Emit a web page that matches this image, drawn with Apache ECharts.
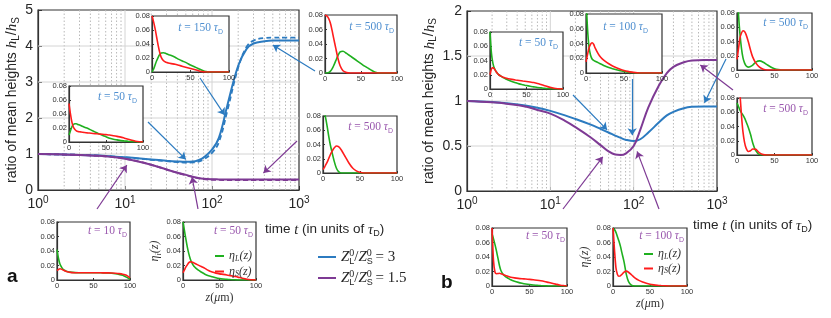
<!DOCTYPE html>
<html><head><meta charset="utf-8">
<script src="https://cdn.jsdelivr.net/npm/echarts@6.0.0/dist/echarts.min.js"></script>
<style>html,body{margin:0;padding:0;background:#fff}#c{width:831px;height:318px}</style>
</head><body><div id="c"></div><script>
// ---- main curves: time t (units of tau_D) vs ratio hL/hS ----
const T = [1,2,3,5,7,10,15,20,30,40,50,60,70,80,100,120,150,200,250,300,400,500,700,1000];
const aBlue      = [1.0,0.985,0.975,0.955,0.935,0.91,0.875,0.85,0.815,0.795,0.785,0.79,0.83,0.9,1.12,1.45,2.35,3.45,3.92,4.07,4.13,4.15,4.15,4.15];
const aBlueDash  = [1.0,0.985,0.975,0.955,0.935,0.905,0.87,0.84,0.8,0.775,0.76,0.765,0.79,0.85,1.03,1.33,2.2,3.4,3.98,4.15,4.22,4.23,4.23,4.23];
const aPurple    = [1.0,0.985,0.975,0.95,0.92,0.87,0.78,0.70,0.57,0.48,0.42,0.37,0.335,0.315,0.3,0.295,0.29,0.29,0.29,0.29,0.29,0.29,0.29,0.29];
const aPurpleDash= [1.0,0.985,0.975,0.95,0.92,0.87,0.78,0.70,0.57,0.475,0.41,0.36,0.325,0.3,0.285,0.28,0.278,0.278,0.278,0.278,0.278,0.278,0.278,0.278];
const bBlue      = [1.0,0.99,0.975,0.95,0.925,0.89,0.84,0.80,0.74,0.69,0.65,0.615,0.59,0.57,0.555,0.575,0.65,0.76,0.84,0.88,0.92,0.935,0.94,0.94];
const bPurple    = [1.0,0.985,0.97,0.94,0.9,0.86,0.78,0.71,0.6,0.51,0.44,0.405,0.40,0.415,0.5,0.68,0.93,1.17,1.31,1.38,1.43,1.45,1.455,1.455];
const minorT = [2,3,4,5,6,7,8,9,20,30,40,50,60,70,80,90,200,300,400,500,600,700,800,900];
const majorT = [10,100];
const yGridA = [1,2,3,4];
const yGridB = [0.5,1,1.5];
// arrow tips (data coords t, ratio)
const arrowTipsA = [[50,0.85],[140,2.08],[500,4.03],[390,0.47],[10.5,0.69],[59,0.36]];
const arrowTipsB = [[48,0.68],[96,0.62],[708,0.98],[631,1.40],[42.6,0.38],[110,0.44]];
// ---- inset profiles eta(z), z in micrometres ----
const Z = [0,2,4,6,8,10,12,15,18,21,25,30,35,40,45,50,55,60,65,70,75,80,85,90,95,100];
const a50b_L = [0.01,0.016,0.022,0.025,0.026,0.026,0.025,0.024,0.0225,0.021,0.0195,0.017,0.0145,0.012,0.0095,0.0075,0.0055,0.004,0.003,0.002,0.0015,0.001,0.0006,0.0003,0.0001,0];
const a50b_S = [0.055,0.04,0.028,0.021,0.018,0.016,0.015,0.0145,0.014,0.0135,0.013,0.0125,0.012,0.0115,0.011,0.0105,0.01,0.009,0.008,0.007,0.0055,0.004,0.0025,0.0012,0.0004,0];
const a150b_L = [0,0.004,0.01,0.016,0.021,0.025,0.027,0.0275,0.0265,0.025,0.0235,0.021,0.018,0.0155,0.013,0.01,0.0075,0.005,0.0025,0.0005,0,0,0,0,0,0];
const a150b_S = [0.08,0.072,0.062,0.05,0.038,0.028,0.021,0.016,0.014,0.013,0.012,0.011,0.0095,0.008,0.0065,0.005,0.0035,0.002,0.0005,0,0,0,0,0,0,0];
const a500b_L = [0,0,0.0003,0.001,0.003,0.006,0.01,0.017,0.024,0.029,0.03,0.027,0.0235,0.02,0.0165,0.013,0.0095,0.0065,0.0035,0.001,0,0,0,0,0,0];
const a500b_S = [0.08,0.079,0.077,0.073,0.067,0.058,0.048,0.034,0.02,0.01,0.003,0.0005,0,0,0,0,0,0,0,0,0,0,0,0,0,0];
const a500p_L = [0.095,0.085,0.075,0.063,0.05,0.039,0.03,0.017,0.007,0.002,0,0,0,0,0,0,0,0,0,0,0,0,0,0,0,0];
const a500p_S = [0.005,0.008,0.012,0.016,0.021,0.026,0.03,0.035,0.038,0.037,0.032,0.023,0.014,0.007,0.003,0.001,0,0,0,0,0,0,0,0,0,0];
const a10p_L = [0.042,0.03,0.022,0.018,0.015,0.0135,0.0125,0.0115,0.011,0.0105,0.0102,0.01,0.01,0.01,0.01,0.01,0.01,0.01,0.0098,0.0096,0.0093,0.0087,0.0078,0.0065,0.004,0.001];
const a10p_S = [0.013,0.0145,0.0155,0.015,0.014,0.013,0.012,0.0112,0.0105,0.0102,0.01,0.0099,0.0099,0.0099,0.0099,0.0099,0.0099,0.0099,0.0098,0.0098,0.0097,0.0093,0.0088,0.008,0.0065,0.003];
const a50p_L = [0.08,0.068,0.056,0.045,0.036,0.029,0.024,0.019,0.016,0.0135,0.011,0.008,0.006,0.0045,0.003,0.002,0.0014,0.001,0.0006,0.0003,0.0001,0,0,0,0,0];
const a50p_S = [0.01,0.014,0.018,0.021,0.024,0.025,0.0248,0.0235,0.022,0.0205,0.0185,0.016,0.013,0.011,0.0095,0.0085,0.0078,0.007,0.006,0.005,0.004,0.0028,0.0017,0.0008,0.0002,0];
const b50b_L = [0.08,0.05,0.036,0.029,0.025,0.022,0.02,0.018,0.016,0.0145,0.0125,0.0105,0.0088,0.0072,0.006,0.0048,0.0038,0.003,0.0022,0.0016,0.001,0.0006,0.0003,0.0001,0,0];
const b50b_S = [0.02,0.028,0.03,0.028,0.025,0.022,0.02,0.018,0.0165,0.0155,0.0145,0.0135,0.0127,0.012,0.0113,0.0106,0.0098,0.009,0.0078,0.0062,0.0045,0.003,0.0018,0.0008,0.0002,0];
const b100b_L = [0.1,0.06,0.035,0.024,0.019,0.017,0.016,0.0145,0.013,0.0115,0.0095,0.0075,0.0058,0.0043,0.003,0.002,0.0012,0.0006,0.0002,0,0,0,0,0,0,0];
const b100b_S = [0.015,0.025,0.034,0.039,0.041,0.039,0.034,0.028,0.023,0.0195,0.016,0.0125,0.0095,0.0072,0.0052,0.0035,0.0022,0.0012,0.0005,0.0001,0,0,0,0,0,0];
const b500b_L = [0.12,0.078,0.05,0.03,0.017,0.01,0.006,0.004,0.005,0.007,0.011,0.0128,0.011,0.0075,0.0042,0.0018,0.0005,0,0,0,0,0,0,0,0,0];
const b500b_S = [0.015,0.03,0.045,0.052,0.055,0.054,0.05,0.04,0.028,0.018,0.01,0.004,0.001,0,0,0,0,0,0,0,0,0,0,0,0,0];
const b500p_L = [0.073,0.068,0.063,0.059,0.056,0.052,0.047,0.039,0.029,0.017,0.006,0.0005,0,0,0,0,0,0,0,0,0,0,0,0,0,0];
const b500p_S = [0.14,0.11,0.085,0.055,0.032,0.018,0.01,0.005,0.006,0.0085,0.008,0.003,0.0005,0,0,0,0,0,0,0,0,0,0,0,0,0];
const b50p_L = [0.072,0.065,0.057,0.048,0.038,0.028,0.021,0.016,0.013,0.011,0.0085,0.0065,0.005,0.0038,0.0028,0.002,0.0014,0.001,0.0006,0.0003,0.0001,0,0,0,0,0];
const b50p_S = [0.08,0.035,0.019,0.017,0.0172,0.0175,0.017,0.0158,0.0145,0.0135,0.0122,0.0112,0.0105,0.01,0.0096,0.0092,0.0087,0.008,0.0072,0.0062,0.005,0.0038,0.0026,0.0015,0.0006,0];
const b100p_L = [0.08,0.078,0.074,0.068,0.062,0.055,0.046,0.033,0.016,0.006,0.001,0,0,0,0,0,0,0,0,0,0,0,0,0,0,0];
const b100p_S = [0.08,0.05,0.025,0.016,0.0135,0.014,0.016,0.019,0.0205,0.019,0.0155,0.011,0.0078,0.0055,0.0038,0.0025,0.0016,0.001,0.0006,0.0003,0.0001,0,0,0,0,0];

const BLUE='#2c7bc0', PURPLE='#7e3a94', GREEN='#1fb01f', RED='#ff1c1c';
const TBLUE='#4f8fd0', TPURPLE='#9a58ae', INK='#262626';
const SERIF="'Liberation Serif','DejaVu Serif',serif";
const SANS="'Liberation Sans',Arial,'DejaVu Sans',sans-serif";

const insets = [
  {rect:[69,86,74,56],  L:a50b_L,  S:a50b_S,  lab:'50',  c:TBLUE,   tr:[137,90]},
  {rect:[152,16,77,56], L:a150b_L, S:a150b_S, lab:'150', c:TBLUE,   tr:[223,21]},
  {rect:[325,15,72,58], L:a500b_L, S:a500b_S, lab:'500', c:TBLUE,   tr:[394,20]},
  {rect:[323,116,74,57],L:a500p_L, S:a500p_S, lab:'500', c:TPURPLE, tr:[393,120]},
  {rect:[57,222,73,58], L:a10p_L,  S:a10p_S,  lab:'10',  c:TPURPLE, tr:[127,224]},
  {rect:[183,222,73,58],L:a50p_L,  S:a50p_S,  lab:'50',  c:TPURPLE, tr:[253,224], leg:'a'},
  {rect:[490,32,73,57], L:b50b_L,  S:b50b_S,  lab:'50',  c:TBLUE,   tr:[558,36]},
  {rect:[586,14,76,59], L:b100b_L, S:b100b_S, lab:'100', c:TBLUE,   tr:[648,20]},
  {rect:[737,13,75,57], L:b500b_L, S:b500b_S, lab:'500', c:TBLUE,   tr:[808,16]},
  {rect:[737,98,75,57], L:b500p_L, S:b500p_S, lab:'500', c:TPURPLE, tr:[808,102]},
  {rect:[492,228,75,58],L:b50p_L,  S:b50p_S,  lab:'50',  c:TPURPLE, tr:[565,229]},
  {rect:[613,228,74,58],L:b100p_L, S:b100p_S, lab:'100', c:TPURPLE, tr:[684,229], leg:'b'}
];
const arrowStartA = [[148,122,BLUE],[200,78,BLUE],[315,71,BLUE],[297,141,PURPLE],[97,209,PURPLE],[198,209,PURPLE]];
const arrowStartB = [[573,95,BLUE],[632,79,BLUE],[726,59,BLUE],[733,90,PURPLE],[563,209,PURPLE],[659,209,PURPLE]];

const pairs = (xs, ys) => xs.map((x,i)=>[x, ys[i]]);
const richMath = (c, fs) => ({
  n:{fontFamily:SANS,fontSize:fs,color:c,lineHeight:fs+4,fontWeight:'normal'},
  i:{fontFamily:SERIF,fontStyle:'italic',fontSize:fs+1,color:c,lineHeight:fs+4,fontWeight:'normal'},
  r:{fontFamily:SERIF,fontSize:fs+1,color:c,lineHeight:fs+4,fontWeight:'normal'},
  s:{fontFamily:SANS,fontSize:Math.round(fs*0.68),color:c,verticalAlign:'bottom',lineHeight:Math.round(fs*0.68),fontWeight:'normal'},
  si:{fontFamily:SERIF,fontStyle:'italic',fontSize:Math.round(fs*0.7),color:c,verticalAlign:'bottom',lineHeight:Math.round(fs*0.7),fontWeight:'normal'},
  p:{fontFamily:SANS,fontSize:Math.round(fs*0.7),color:c,verticalAlign:'top',lineHeight:Math.round(fs*0.7),fontWeight:'normal'}
});

const grid = [
  {left:38, top:10, width:261, height:180, show:true, borderColor:'#333', borderWidth:1.2, backgroundColor:'transparent', z:0},
  {left:467, top:11, width:250, height:180, show:true, borderColor:'#333', borderWidth:1.2, backgroundColor:'transparent', z:0}
];
insets.forEach(s=>grid.push({left:s.rect[0], top:s.rect[1], width:s.rect[2], height:s.rect[3], show:false}));

function openSpans(a0, a1, pos, vertical) {
  let iv = [[a0, a1]];
  for (const s of insets) {
    const x=s.rect[0], y=s.rect[1], w=s.rect[2], h=s.rect[3];
    const hit = vertical ? (pos >= x-1 && pos <= x+w+1) : (pos >= y-1 && pos <= y+h+1);
    if (!hit) continue;
    const lo = vertical ? y : x, hi = vertical ? y+h : x+w;
    const nv = [];
    for (const q of iv) {
      if (lo > q[0]) nv.push([q[0], Math.min(q[1], lo)]);
      if (hi < q[1]) nv.push([Math.max(q[0], hi), q[1]]);
    }
    iv = nv.filter(q=>q[1] > q[0]);
  }
  return iv;
}

const mainX = (gi) => ({gridIndex:gi, type:'log', logBase:10, min:1, max:1000,
  axisLine:{show:true,lineStyle:{color:'#333',width:1.2}},
  axisTick:{inside:true,length:4,lineStyle:{color:'#333'}},
  splitLine:{show:false}, minorTick:{show:false}, minorSplitLine:{show:false},
  axisLabel:{margin:5, formatter:v=>'{n|10}{p|'+Math.round(Math.log10(v))+'}', rich:richMath(INK,14)}});
const mainY = (gi, max, step, gap) => ({gridIndex:gi, type:'value', min:0, max:max, interval:step,
  axisLine:{show:true,lineStyle:{color:'#333',width:1.2}},
  axisTick:{inside:true,length:4,lineStyle:{color:'#333'}},
  splitLine:{show:false}, minorSplitLine:{show:false},
  axisLabel:{margin:5,fontSize:14,color:INK,fontFamily:SANS},
  name:'{n|ratio of mean heights }{i|h}{s|L}{n|/}{i|h}{s|S}', nameLocation:'middle', nameRotate:90, nameGap:gap,
  nameTextStyle:{rich:richMath(INK,14)}});

const xAxis = [mainX(0), mainX(1)];
const yAxis = [mainY(0,5,1,17), mainY(1,2,0.5,28)];
insets.forEach((s,k)=>{
  const gi = k+2;
  const xa = {gridIndex:gi, type:'value', min:0, max:100, interval:50, z:7,
    axisLine:{show:true,lineStyle:{color:'#333',width:1.2}},
    axisTick:{inside:true,length:2,lineStyle:{color:'#333'}},
    splitLine:{show:false},
    axisLabel:{fontSize:7.5,margin:2,color:'#333',fontFamily:SANS}};
  const ya = {gridIndex:gi, type:'value', min:0, max:0.08, interval:0.02, z:7,
    axisLine:{show:true,lineStyle:{color:'#333',width:1.2}},
    axisTick:{inside:true,length:2,lineStyle:{color:'#333'}},
    splitLine:{show:false},
    axisLabel:{fontSize:7.5,margin:2,color:'#333',fontFamily:SANS, formatter:v=>v===0?'0':v.toFixed(2)}};
  if (s.leg) {
    xa.name='{i|z}{r|(}{g|μ}{r|m)}'; xa.nameLocation='middle'; xa.nameGap=12;
    xa.nameTextStyle={rich:{i:{fontFamily:SERIF,fontStyle:'italic',fontSize:12,color:'#333'},r:{fontFamily:SERIF,fontSize:12,color:'#333'},g:{fontFamily:SERIF,fontStyle:'italic',fontSize:12,color:'#333'}}};
    ya.name='{i|η}{si|i}{i|(z)}'; ya.nameLocation='middle'; ya.nameRotate=90; ya.nameGap=20;
    ya.nameTextStyle={rich:richMath('#333',11)};
  }
  xAxis.push(xa); yAxis.push(ya);
});

const lineS = (name, xi, data, color, width, type, z, sm) => ({name, type:'line', xAxisIndex:xi, yAxisIndex:xi, data,
  symbol:'none', showSymbol:false, smooth:sm, clip:true, z:z,
  lineStyle:{color, width, type}, itemStyle:{color}, emphasis:{disabled:true}, silent:true});

const series = [];
// gridlines: [t, y, kind] kind 0 = minor vertical (dotted), 1 = major vertical, 2 = horizontal
[[0,yGridA],[1,yGridB]].forEach(([gi, yg])=>{
  const gdata = minorT.map(v=>[v,0.0001,0]).concat(majorT.map(v=>[v,0.0001,1])).concat(yg.map(v=>[1,v,2]));
  series.push({type:'custom', coordinateSystem:'cartesian2d', xAxisIndex:gi, yAxisIndex:gi, z:1, silent:true,
    dimensions:['t','v','kind'], data:gdata, encode:{x:0, y:1},
    renderItem:(params, api)=>{
      const kind = api.value(2);
      const p = api.coord([api.value(0), api.value(1)]);
      const r = params.coordSys;
      const style = kind === 0 ? {stroke:'#b9b9b9', lineWidth:1, lineDash:[1.5,2]} : {stroke:'#d4d4d4', lineWidth:1};
      const vertical = kind !== 2;
      const spans = vertical ? openSpans(r.y, r.y+r.height, p[0], true) : openSpans(r.x, r.x+r.width, p[1], false);
      return {type:'group', children: spans.map(q=>({type:'line', silent:true, style:style,
        shape: vertical ? {x1:p[0], y1:q[0], x2:p[0], y2:q[1]} : {x1:q[0], y1:p[1], x2:q[1], y2:p[1]}}))};
    }});
});
// white boxed background of each inset panel (drawn as a series so it sits above the gridlines)
insets.forEach((s,k)=>{
  const gi=k+2;
  series.push({type:'custom', coordinateSystem:'cartesian2d', xAxisIndex:gi, yAxisIndex:gi, z:5, silent:true,
    data:[[0,0]], clip:false,
    renderItem:(params)=>{
      const r = params.coordSys;
      return {type:'rect', silent:true, shape:{x:r.x, y:r.y, width:r.width, height:r.height}, style:{fill:'#fff', stroke:'#333', lineWidth:1.2}};
    }});
});
series.push(lineS('Z3',0,pairs(T,aBlue),BLUE,2,'solid',3,0.4));
series.push(lineS('Z3d',0,pairs(T,aBlueDash),BLUE,1.8,[5,3],3,0.4));
series.push(lineS('Z15',0,pairs(T,aPurple),PURPLE,2,'solid',3,0.4));
series.push(lineS('Z15d',0,pairs(T,aPurpleDash),PURPLE,1.8,[5,3],3,0.4));
series.push(lineS('bZ3',1,pairs(T,bBlue),BLUE,2,'solid',3,0.4));
series.push(lineS('bZ15',1,pairs(T,bPurple),PURPLE,2,'solid',3,0.4));
insets.forEach((s,k)=>{
  const gi=k+2;
  series.push(lineS(s.leg?('ηL_'+s.leg):('g'+k),gi,pairs(Z,s.L),GREEN,1.6,'solid',8,0.25));
  series.push(lineS(s.leg?('ηS_'+s.leg):('r'+k),gi,pairs(Z,s.S),RED,1.6,'solid',8,0.25));
});
const arrowSeries = (gi, starts, tips) => ({type:'line', xAxisIndex:gi, yAxisIndex:gi, data:[], z:9, silent:true,
  markLine:{silent:true, z:10, symbol:['none','arrow'], symbolSize:7, label:{show:false}, animation:false,
    data: starts.map((st,i)=>[{x:st[0], y:st[1], lineStyle:{color:st[2],width:1.2,type:'solid'}, itemStyle:{color:st[2]}}, {coord:tips[i]}])}});
series.push(arrowSeries(0, arrowStartA, arrowTipsA));
series.push(arrowSeries(1, arrowStartB, arrowTipsB));

const title = [];
insets.forEach(s=>{
  title.push({right:831-s.tr[0], top:s.tr[1], padding:0, z:12,
    text:'{i|t}{r| = '+s.lab+' }{i|τ}{s|D}',
    textStyle:{fontWeight:'normal', rich:richMath(s.c,10.5)}});
});
title.push({left:265, top:221, padding:0, text:'{n|time }{i|t}{n| (in units of }{i|τ}{s|D}{n|)}', textStyle:{fontWeight:'normal', rich:richMath(INK,13.5)}});
title.push({left:693, top:217, padding:0, text:'{n|time }{i|t}{n| (in units of }{i|τ}{s|D}{n|)}', textStyle:{fontWeight:'normal', rich:richMath(INK,13.5)}});
title.push({left:7, top:267, padding:0, text:'a', textStyle:{fontFamily:SANS,fontWeight:'bold',fontSize:19,color:'#111'}});
title.push({left:441, top:273, padding:0, text:'b', textStyle:{fontFamily:SANS,fontWeight:'bold',fontSize:19,color:'#111'}});

const zRich = {
  z:{fontFamily:SERIF,fontStyle:'italic',fontSize:15,color:INK,lineHeight:18},
  n:{fontFamily:SERIF,fontSize:15,color:INK,lineHeight:18},
  sb:{fontFamily:SANS,fontSize:9,color:INK,verticalAlign:'bottom',lineHeight:9,width:0},
  sp:{fontFamily:SERIF,fontSize:10,color:INK,verticalAlign:'top',lineHeight:10}
};
const etaRich = {
  e:{fontFamily:SERIF,fontStyle:'italic',fontSize:12,color:'#333',lineHeight:13},
  s:{fontFamily:SERIF,fontStyle:'italic',fontSize:8,color:'#333',verticalAlign:'bottom',lineHeight:8}
};
const legend = [
  {data:['Z3','Z15'], left:318, top:248, orient:'vertical', icon:'rect', itemWidth:18, itemHeight:2, itemGap:3, selectedMode:false, padding:0, z:10,
   formatter:n=>'{z|Z}{sb|L}{sp|0}{n|/}{z|Z}{sb|S}{sp|0}{n| = '+(n==='Z3'?'3':'1.5')+'}', textStyle:{rich:zRich}},
  {data:['ηL_a','ηS_a'], left:215, top:250, orient:'vertical', icon:'rect', itemWidth:9, itemHeight:2, itemGap:3, selectedMode:false, padding:0, z:12,
   formatter:n=>'{e|η}{s|'+(n[1]==='L'?'L':'S')+'}{e|(z)}', textStyle:{rich:etaRich}},
  {data:['ηL_b','ηS_b'], left:644, top:248, orient:'vertical', icon:'rect', itemWidth:9, itemHeight:2, itemGap:2, selectedMode:false, padding:0, z:12,
   formatter:n=>'{e|η}{s|'+(n[1]==='L'?'L':'S')+'}{e|(z)}', textStyle:{rich:etaRich}}
];

const chart = echarts.init(document.getElementById('c'), null, {renderer:'canvas'});
chart.setOption({animation:false, backgroundColor:'#fff', grid, xAxis, yAxis, series, title, legend});
</script></body></html>
